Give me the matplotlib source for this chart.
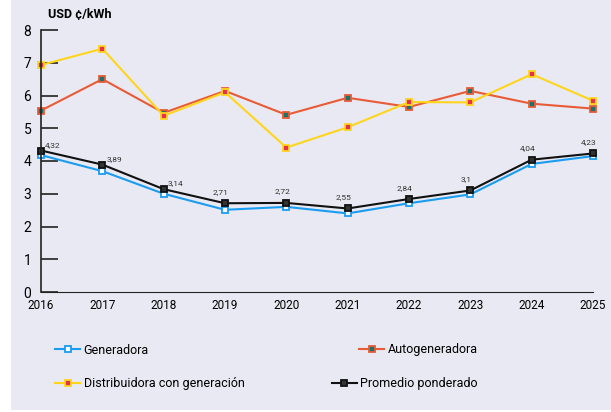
import matplotlib.pyplot as plt
from matplotlib.patches import Rectangle
from matplotlib.lines import Line2D

years = [2016, 2017, 2018, 2019, 2020, 2021, 2022, 2023, 2024, 2025]
generadora = [4.18, 3.69, 3.00, 2.51, 2.60, 2.40, 2.71, 2.98, 3.91, 4.15]
autogeneradora = [5.54, 6.50, 5.47, 6.14, 5.41, 5.93, 5.65, 6.14, 5.75, 5.60]
distribuidora = [6.93, 7.43, 5.38, 6.10, 4.41, 5.03, 5.80, 5.79, 6.65, 5.84]
promedio = [4.32, 3.89, 3.14, 2.71, 2.72, 2.55, 2.84, 3.10, 4.04, 4.23]
promedio_labels = ["4,32", "3,89", "3,14", "2,71", "2,72", "2,55", "2,84", "3,1", "4,04", "4,23"]

plt.rcParams['font.family'] = ['Roboto', 'DejaVu Sans']

bg = '#e9e9f3'
fig = plt.figure(figsize=(6.11, 4.12), dpi=100)
fig.patch.set_facecolor('white')
fig.patches.append(Rectangle((11 / 611, 2 / 412), 1, 1, transform=fig.transFigure,
                             facecolor=bg, edgecolor='none', zorder=-10))

ax = fig.add_axes([41 / 611, 1 - 292 / 412, 552 / 611, 262 / 412])
ax.set_facecolor(bg)

styles = [
    ("Generadora", generadora, '#1a9cf0', 'white', '#1a9cf0'),
    ("Autogeneradora", autogeneradora, '#e85b35', '#17756e', '#e85b35'),
    ("Distribuidora con generación", distribuidora, '#ffd51c', '#e8304c', '#ffd51c'),
    ("Promedio ponderado", promedio, '#111111', '#333333', '#111111'),
]
handles = []
for name, vals, col, face, edge in styles:
    ax.plot(years, vals, color=col, lw=1.5, marker='s', ms=5,
            mfc=face, mec=edge, mew=1.3, clip_on=False)
    handles.append(Line2D([], [], color=col, lw=1.5, marker='s', ms=4.5,
                          mfc=face, mec=edge, mew=1.3, label=name))

for i, (x, y, lab) in enumerate(zip(years, promedio, promedio_labels)):
    if i < 3:
        ax.annotate(lab, (x, y), xytext=(3, 2), textcoords='offset points',
                    ha='left', va='bottom', fontsize=6, color='#333333')
    else:
        ax.annotate(lab, (x, y), xytext=(-3, 6), textcoords='offset points',
                    ha='center', va='bottom', fontsize=6, color='#333333')

ax.set_xlim(2016, 2025)
ax.set_ylim(0, 8)
ax.set_xticks(years)
ax.set_yticks(range(0, 9))
ax.tick_params(axis='y', direction='in', length=12, width=1.2, color='#222222',
               labelsize=10, pad=7)
ax.tick_params(axis='x', length=0, labelsize=8.5, pad=5)
for s in ['top', 'right']:
    ax.spines[s].set_visible(False)
ax.spines['left'].set_color('#222222')
ax.spines['bottom'].set_color('#222222')
ax.spines['left'].set_linewidth(1.2)

fig.text(48 / 611, 1 - 14 / 412, "USD ¢/kWh", fontsize=9, fontweight='bold',
         va='center', ha='left')

leg_kw = dict(frameon=False, fontsize=9, handlelength=2.0, handletextpad=0.3,
              borderpad=0, borderaxespad=0)
# left column
fig.legend(handles=[handles[0]], loc='center left',
           bbox_to_anchor=(55 / 611, 1 - 350 / 412), **leg_kw)
fig.legend(handles=[handles[2]], loc='center left',
           bbox_to_anchor=(55 / 611, 1 - 384 / 412), **leg_kw)
# right column, right aligned
fig.legend(handles=[handles[1]], loc='center right',
           bbox_to_anchor=(478 / 611, 1 - 350 / 412), **leg_kw)
fig.legend(handles=[handles[3]], loc='center right',
           bbox_to_anchor=(478 / 611, 1 - 384 / 412), **leg_kw)

fig.savefig("out.png", dpi=100)
